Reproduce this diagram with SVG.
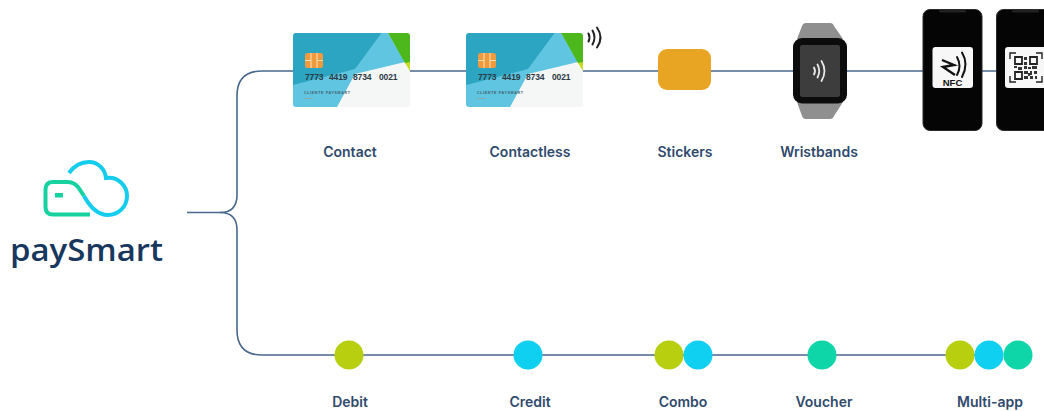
<svg xmlns="http://www.w3.org/2000/svg" width="1044" height="411" viewBox="0 0 1044 411">
<style>
.lbl{font-family:"Inter","Open Sans",sans-serif;font-size:14px;font-weight:600;fill:#2f4a6d;text-anchor:middle}
.conn{fill:none;stroke:#48688c;stroke-width:1.6}
.phone{fill:#050505;stroke:#2a2a2a;stroke-width:1}
.wave{fill:none;stroke-linecap:round}
.num{font-family:"Liberation Sans",sans-serif;font-size:8.500px;font-weight:700;fill:#2b3a44}
.small{font-family:"Liberation Sans",sans-serif;font-size:3.600px;font-weight:700;fill:#44606e}
.lime{fill:#b7cf0f}.cyan{fill:#0fd0f0}.mint{fill:#0fd6a8}
</style>
<defs>
<g id="card">
<rect width="117" height="74" rx="3" fill="#f5f6f6"/>
<path d="M85 0H95L112 29L62 41L44 74H3A3 3 0 0 1 0 71V50Z" fill="#5fc5e0"/>
<path d="M3 0H88.500L62 36L0 52V3A3 3 0 0 1 3 0Z" fill="#2ca5c2"/>
<path d="M95 0H114a3 3 0 0 1 3 3V30L112 30Z" fill="#4db81c"/>
<path d="M112 30L117 29V38Z" fill="#c9dc20"/>
<rect x="12" y="20" width="18" height="15" rx="2.500" fill="#f09a3e"/>
<path d="M18 20V35M24 20V35M12 27.500H18M24 27.500H30" stroke="#fbdcae" stroke-width="1.100" fill="none"/>
<text class="num" x="12" y="47" textLength="18.500">7773</text>
<text class="num" x="36" y="47" textLength="18.500">4419</text>
<text class="num" x="60" y="47" textLength="18.500">8734</text>
<text class="num" x="86" y="47" textLength="18.500">0021</text>
<text class="small" x="11" y="61" textLength="46">CLIENTE PAYSMART</text>
<rect x="11" y="65" width="9" height="1" fill="#8aa"/>
</g>
</defs>
<rect width="1044" height="411" fill="#fff"/>
<g id="connectors">
<path class="conn" d="M187 212.500H220Q237 212.500 237 195V96Q237 71 262 71H1000"/>
<path class="conn" d="M220 212.500Q237 212.500 237 230V330Q237 355 262 355H1000"/>
</g>
<g id="logo">
<path d="M90 214.500H53Q45.500 214.500 45.500 207V189.500Q45.500 182 53 182H67Q74 182 78 187L84 196" fill="none" stroke="#16d2a0" stroke-width="4"/>
<rect x="55" y="193" width="8" height="4.500" fill="#16d2a0"/>
<path d="M69 173C74 166 81 162 89 162C98 162 105 169 106 178C118 176 127 186 127 196C127 207 118 215 108 215C97 215 90 207 84 196" fill="none" stroke="#14cdec" stroke-width="4"/>
<text x="86.500" y="261" font-family="'Open Sans',sans-serif" font-size="30" font-weight="600" fill="#17375e" text-anchor="middle" textLength="153" lengthAdjust="spacingAndGlyphs">paySmart</text>
</g>
<g id="contact">
<use href="#card" x="293" y="33"/>
<text class="lbl" x="350" y="157">Contact</text>
</g>
<g id="contactless">
<use href="#card" x="466" y="33"/>
<path class="wave" d="M588.500 33.500Q590.500 37.500 588.500 41.500M592.500 30.500Q596.500 37.500 592.500 44.500M597 27.500Q604 37.500 597 47.500" stroke="#222" stroke-width="2"/>
<text class="lbl" x="530" y="157">Contactless</text>
</g>
<g id="stickers">
<rect x="658" y="49" width="53" height="41" rx="9" fill="#e8a523"/>
<text class="lbl" x="685" y="157">Stickers</text>
</g>
<g id="wristbands">
<path d="M797 39L802 26Q803 23 806 23H830Q833 23 834 26L843 39Z" fill="#8f8f8f"/>
<path d="M797 102L802 116Q803 119 806 119H830Q833 119 834 116L843 102Z" fill="#8f8f8f"/>
<rect x="793" y="38" width="54" height="65.500" rx="9" fill="#0c0c0c"/>
<rect x="800" y="45" width="40" height="52" rx="2" fill="#3d3d3d"/>
<path class="wave" d="M814 67.500Q816 71 814 74.500M817.500 64.500Q821 71 817.500 77.500M821.500 61Q827.500 71 821.500 81" stroke="#e8e8e8" stroke-width="1.800"/>
<text class="lbl" x="819" y="157">Wristbands</text>
</g>
<g id="phone-nfc">
<rect class="phone" x="923" y="9.500" width="59" height="121" rx="7"/>
<rect x="939" y="10" width="27" height="2.500" rx="1.200" fill="#222"/>
<rect x="932.500" y="47" width="40.500" height="41" rx="3" fill="#f7f7f7"/>
<path d="M942 60L954 65L943 67L955 75" fill="none" stroke="#111" stroke-width="2.400"/>
<path class="wave" d="M957 57Q962 66 957 75M962 52.500Q969 64 962 77" stroke="#111" stroke-width="2"/>
<text x="952.500" y="86" font-family="'Liberation Sans',sans-serif" font-size="9.500" font-weight="700" fill="#111" text-anchor="middle">NFC</text>
</g>
<g id="phone-qr">
<rect class="phone" x="996.500" y="9.500" width="59" height="121" rx="7"/>
<rect x="1012" y="10" width="27" height="2.500" rx="1.200" fill="#222"/>
<rect x="1005" y="47" width="41" height="41" rx="3" fill="#f7f7f7"/>
<path d="M1010 59V53H1016M1036 53H1042V59M1042 76V82H1036M1016 82H1010V76" fill="none" stroke="#222" stroke-width="1.400"/>
<path d="M1015 57h7v7h-7zM1030 57h7v7h-7zM1015 72h7v7h-7z" fill="none" stroke="#222" stroke-width="1.800"/>
<path d="M1024 57h3v3h-3zM1024 62h3v3h-3zM1014 66h3v2h-3zM1018 67h4v3h-4zM1024 66h3v3h-3zM1028 67h3v2h-3zM1032 66h5v3h-5zM1024 71h4v3h-4zM1030 71h2v4h-2zM1034 71h3v3h-3zM1024 76h4v3h-4zM1030 76h3v3h-3zM1035 76h2v3h-2zM1028 73h2v3h-2z" fill="#333"/>
</g>
<g id="debit">
<circle class="lime" cx="349" cy="355" r="14.500"/>
<text class="lbl" x="350" y="407">Debit</text>
</g>
<g id="credit">
<circle class="cyan" cx="528" cy="355" r="14.500"/>
<text class="lbl" x="530" y="407">Credit</text>
</g>
<g id="combo">
<circle class="lime" cx="669" cy="355" r="14.500"/>
<circle class="cyan" cx="698" cy="355" r="14.500"/>
<text class="lbl" x="683" y="407">Combo</text>
</g>
<g id="voucher">
<circle class="mint" cx="822" cy="355" r="14.500"/>
<text class="lbl" x="824" y="407">Voucher</text>
</g>
<g id="multi-app">
<circle class="lime" cx="960" cy="355" r="14.500"/>
<circle class="cyan" cx="989" cy="355" r="14.500"/>
<circle class="mint" cx="1018" cy="355" r="14.500"/>
<text class="lbl" x="990" y="407">Multi-app</text>
</g>
</svg>
